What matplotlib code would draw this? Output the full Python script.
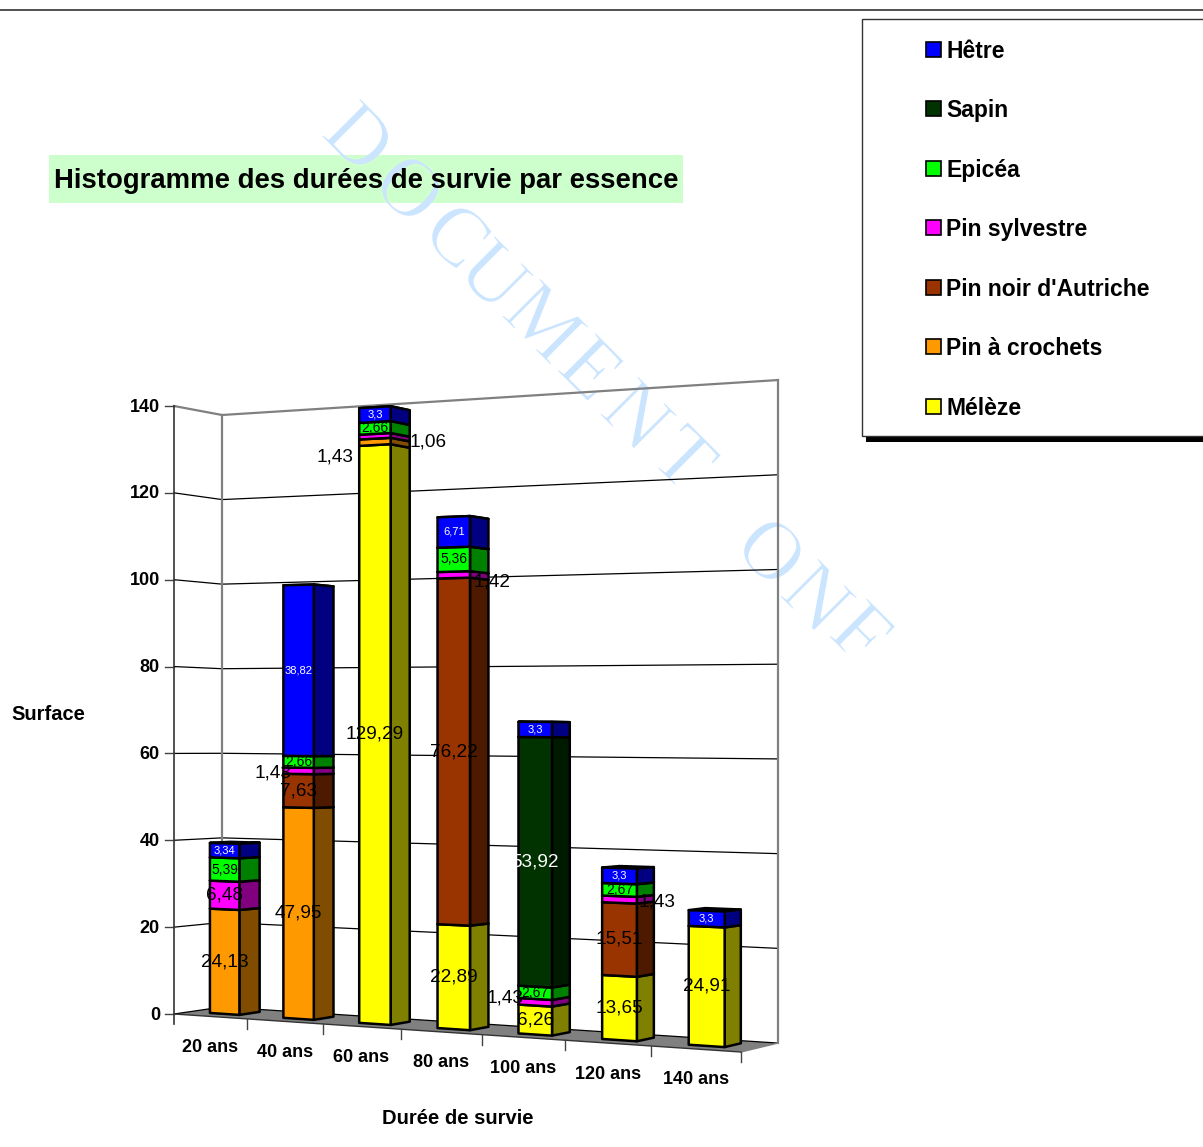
import numpy as np
import matplotlib
matplotlib.use('Agg')
import matplotlib.pyplot as plt
import matplotlib.patheffects as pe
from matplotlib.patches import Polygon, Rectangle

W, H = 1203, 1147

categories = ['20 ans', '40 ans', '60 ans', '80 ans', '100 ans', '120 ans', '140 ans']
yticks = [0, 20, 40, 60, 80, 100, 120, 140]

meleze = [0, 0, 129.29, 22.89, 6.26, 13.65, 24.91]
crochets = [24.13, 47.95, 1.43, 0, 0, 0, 0]
noir = [0, 7.63, 0, 76.22, 0, 15.51, 0]
sylvestre = [6.48, 1.43, 1.06, 1.42, 1.43, 1.43, 0]
epicea = [5.39, 2.66, 2.66, 5.36, 2.67, 2.67, 0]
sapin = [0, 0, 0, 0, 53.92, 0, 0]
hetre = [3.34, 38.82, 3.3, 6.71, 3.3, 3.3, 3.3]

series = [meleze, crochets, noir, sylvestre, epicea, sapin, hetre]
names = ['Mélèze', 'Pin à crochets', "Pin noir d'Autriche", 'Pin sylvestre', 'Epicéa', 'Sapin', 'Hêtre']
colors = ['#ffff00', '#ff9900', '#993300', '#ff00ff', '#00ff00', '#003300', '#0000ff']
sides = ['#808000', '#804d00', '#4d1a00', '#800080', '#008000', '#001a00', '#000080']

# label look, same (category, series) keys: size, colour, shift
small = {(0, 6), (1, 6), (2, 6), (3, 6), (4, 6), (5, 6), (6, 6)}
medium = {(0, 4), (1, 4), (2, 4), (3, 4), (4, 4), (5, 4)}
white = small | {(4, 5)}
shift = {(1, 3): (-26, 2), (2, 1): (-40, 15), (2, 3): (53, 6), (3, 3): (38, 7),
         (4, 3): (-30, -4), (5, 3): (38, 2)}

watermark = 'DOCUMENTONF'
watermark_xy = [(355, 142), (405, 193), (453, 240), (490, 280), (540, 327), (587, 373),
                (633, 420), (680, 463), (767, 556), (813, 602), (857, 637)]

BAR_L, BAR_R = 0.275, 0.68
DEPTH_F, DEPTH_B = 0.33, 0.76


def project(u, d, v):
    # perspective of the chart box, u along categories, d in depth, v in axis units
    w = 1 - 0.11 * u + 0.027 * d
    x = (485.4 * u + 54 * d + 174) / w
    y = (-77.7 * u + 20.2 * d + 1014 - 608 * v / 140) / w
    return x, y


fig = plt.figure(figsize=(W / 100, H / 100), dpi=100)
ax = fig.add_axes([0, 0, 1, 1])
ax.set_xlim(0, W)
ax.set_ylim(H, 0)
ax.axis('off')
plt.rcParams['font.family'] = ['Liberation Sans', 'DejaVu Sans']

ax.plot([0, W], [10, 10], color='#333333', lw=1.2)

# title
title_box = Rectangle((49, 155), 634, 48, fc='#ccffcc', ec='none', zorder=1)
ax.add_patch(title_box)
ax.text(366, 181, 'Histogramme des durées de survie par essence', fontsize=19.8,
        fontweight='bold', ha='center', va='center', zorder=6)

# watermark, letter by letter, thinned with a stroke of the background colour
for ch, (x, y) in zip(watermark, watermark_xy):
    ax.text(x, y, ch, family='Liberation Serif', fontsize=60, color='#cce5ff',
            rotation=-45, rotation_mode='anchor', ha='center', va='center', zorder=2,
            path_effects=[pe.Stroke(linewidth=1.0, foreground='white')])
    t = ax.text(x, y, ch, family='Liberation Serif', fontsize=60, color='#cce5ff',
                rotation=-45, rotation_mode='anchor', ha='center', va='center', zorder=2,
                clip_on=True, path_effects=[pe.Stroke(linewidth=1.0, foreground='#ccffcc')])
    t.set_clip_path(title_box)

# floor
floor = [project(0, 0, 0), project(1, 0, 0), project(1, 1, 0), project(0, 1, 0)]
ax.add_patch(Polygon(floor, fc='#808080', ec='none', zorder=3))

# walls and grid
for t in yticks:
    pts = [project(0, 0, t), project(0, 1, t), project(1, 1, t)]
    col = '#808080' if t == 140 else 'black'
    ax.plot(*zip(*pts), color=col, lw=1.6 if t == 140 else 0.9, zorder=3)
    x0, y0 = project(0, 0, t)
    ax.plot([x0 - 9, x0], [y0, y0], color='#444444', lw=1, zorder=3)
    ax.text(x0 - 14, y0 + 1, str(t), fontsize=13, fontweight='bold', ha='right', va='center', zorder=6)
for u in (0, 1):
    ax.plot(*zip(project(u, 1, 0), project(u, 1, 140)), color='#808080', lw=1.6, zorder=3)
x0, y0 = project(0, 0, 0)
ax.plot([x0, x0], [project(0, 0, 140)[1], y0 + 10], color='#333333', lw=1.2, zorder=3)
ax.plot(*zip(project(1, 1, 0), project(1, 0, 0)), color='#808080', lw=1, zorder=3)
ax.plot(*zip(project(0, 0, 0), project(1, 0, 0)), color='#333333', lw=1, zorder=3)

n = len(categories)
for i, cat in enumerate(categories):
    x, y = project((i + 1) / n, 0, 0)
    ax.plot([x, x], [y, y + 10], color='#444444', lw=1, zorder=3)
    x, y = project((i + 0.5) / n, 0, 0)
    ax.text(x, y + 31, cat, fontsize=13, fontweight='bold', ha='center', va='center', zorder=6)

# bars
for i in range(n):
    ul, ur = (i + BAR_L) / n, (i + BAR_R) / n
    base = 0
    for s, vals in enumerate(series):
        v = vals[i]
        if v == 0:
            continue
        top = base + v
        front = [project(ul, DEPTH_F, base), project(ur, DEPTH_F, base),
                 project(ur, DEPTH_F, top), project(ul, DEPTH_F, top)]
        side = [project(ur, DEPTH_F, base), project(ur, DEPTH_B, base),
                project(ur, DEPTH_B, top), project(ur, DEPTH_F, top)]
        lid = [project(ul, DEPTH_F, top), project(ur, DEPTH_F, top),
               project(ur, DEPTH_B, top), project(ul, DEPTH_B, top)]
        z = 4 + i * 0.01
        ax.add_patch(Polygon(lid, fc=sides[s], ec='black', lw=1.8, zorder=z, joinstyle='round'))
        ax.add_patch(Polygon(side, fc=sides[s], ec='black', lw=1.8, zorder=z, joinstyle='round'))
        ax.add_patch(Polygon(front, fc=colors[s], ec='black', lw=1.8, zorder=z, joinstyle='round'))
        lx, ly = project((ul + ur) / 2, DEPTH_F, base + v / 2)
        dx, dy = shift.get((i, s), (0, 0))
        size = 8 if (i, s) in small else 10 if (i, s) in medium else 13.7
        ax.text(lx + dx, ly + dy, f'{v:g}'.replace('.', ','), fontsize=size,
                color='white' if (i, s) in white else 'black', ha='center', va='center', zorder=6)
        base = top

# axis titles
ax.text(48, 715, 'Surface', fontsize=14.5, fontweight='bold', ha='center', va='center', zorder=6)
ax.text(458, 1118, 'Durée de survie', fontsize=14.5, fontweight='bold', ha='center', va='center', zorder=6)

# legend
ax.add_patch(Rectangle((866, 424), W - 866, 18, fc='black', ec='none', zorder=7))
ax.add_patch(Rectangle((862, 19), W - 862 + 5, 417, fc='white', ec='#333333', lw=1, zorder=7))
legend_y = [407, 347, 288, 228, 169, 109, 50]
for name, col, ly in zip(names, colors, legend_y):
    ax.add_patch(Rectangle((926, ly - 8), 15, 15, fc=col, ec='black', lw=1.2, zorder=8))
    ax.text(946, ly + 1.5, name, fontsize=16.5, fontweight='bold', ha='left', va='center', zorder=8)

fig.savefig('out.png', dpi=100)
